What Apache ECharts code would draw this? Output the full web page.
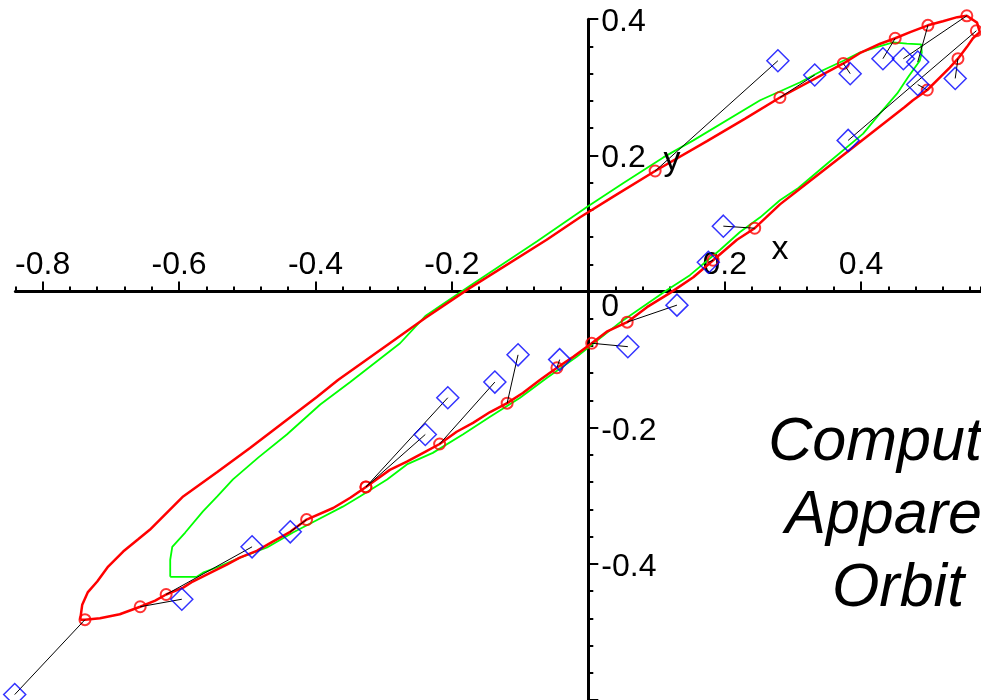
<!DOCTYPE html>
<html><head><meta charset="utf-8">
<script src="https://cdn.jsdelivr.net/npm/echarts@6/dist/echarts.min.js"></script>
<style>html,body{margin:0;padding:0;background:#fff}#c{width:981px;height:700px}</style>
</head><body><div id="c"></div>
<script>
const xTickLabels = [-0.8, -0.6, -0.4, -0.2, 0.2, 0.4];
const xMajorTicks = [-0.8, -0.6, -0.4, -0.2, 0, 0.2, 0.4];
const yTickLabels = [-0.4, -0.2, 0, 0.2, 0.4];
const titleLines = ['Computed', 'Apparent', 'Orbit'];
const xName = 'x';
const yName = 'y';

// red: computed apparent orbit (closed)
const computedOrbit = [
[-0.745,-0.482],[-0.742,-0.460],[-0.734,-0.442],[-0.720,-0.426],[-0.704,-0.404],
[-0.682,-0.382],[-0.660,-0.364],[-0.643,-0.350],[-0.594,-0.301],[-0.544,-0.265],
[-0.496,-0.230],[-0.448,-0.193],[-0.398,-0.155],[-0.367,-0.130],[-0.305,-0.086],
[-0.239,-0.039],[-0.174,0.005],[-0.061,0.076],[-0.012,0.109],[0.036,0.139],
[0.098,0.177],[0.174,0.221],[0.230,0.254],[0.281,0.285],[0.374,0.335],
[0.398,0.350],[0.428,0.364],[0.450,0.372],[0.472,0.381],[0.498,0.391],
[0.520,0.397],[0.541,0.403],[0.555,0.405],[0.570,0.395],[0.574,0.381],
[0.564,0.372],[0.555,0.359],[0.542,0.342],[0.530,0.329],[0.516,0.315],
[0.497,0.296],[0.476,0.281],[0.464,0.271],[0.381,0.206],[0.308,0.149],
[0.281,0.128],[0.244,0.093],[0.218,0.076],[0.183,0.046],[0.154,0.021],
[0.120,-0.002],[0.086,-0.023],[0.057,-0.045],[0.027,-0.059],[0.005,-0.076],
[-0.022,-0.096],[-0.046,-0.112],[-0.071,-0.130],[-0.096,-0.149],[-0.119,-0.164],
[-0.144,-0.177],[-0.169,-0.193],[-0.193,-0.206],[-0.218,-0.224],[-0.242,-0.237],
[-0.266,-0.250],[-0.291,-0.262],[-0.326,-0.287],[-0.349,-0.303],[-0.374,-0.318],
[-0.413,-0.335],[-0.437,-0.353],[-0.462,-0.367],[-0.486,-0.381],[-0.511,-0.391],
[-0.530,-0.401],[-0.550,-0.411],[-0.580,-0.426],[-0.594,-0.435],[-0.619,-0.445],
[-0.635,-0.454],[-0.657,-0.463],[-0.687,-0.474],[-0.716,-0.480],[-0.738,-0.482],
[-0.745,-0.482]
];

// green: true orbit (closed)
const trueOrbit = [
[-0.613,-0.419],[-0.613,-0.394],[-0.610,-0.375],[-0.591,-0.354],[-0.565,-0.323],
[-0.544,-0.301],[-0.521,-0.276],[-0.484,-0.244],[-0.442,-0.210],[-0.393,-0.166],
[-0.349,-0.133],[-0.276,-0.076],[-0.239,-0.036],[-0.174,0.008],[-0.075,0.074],
[-0.002,0.124],[0.051,0.159],[0.110,0.197],[0.154,0.222],[0.252,0.281],
[0.310,0.307],[0.344,0.325],[0.374,0.339],[0.398,0.351],[0.423,0.359],
[0.447,0.366],[0.467,0.364],[0.488,0.363],[0.489,0.351],[0.486,0.339],
[0.469,0.315],[0.453,0.291],[0.428,0.262],[0.403,0.232],[0.354,0.191],
[0.308,0.152],[0.281,0.134],[0.252,0.109],[0.222,0.087],[0.193,0.061],
[0.149,0.024],[0.115,0.002],[0.047,-0.045],[-0.017,-0.096],[-0.061,-0.127],
[-0.100,-0.156],[-0.144,-0.184],[-0.184,-0.210],[-0.228,-0.237],[-0.266,-0.254],
[-0.295,-0.276],[-0.335,-0.301],[-0.360,-0.316],[-0.404,-0.339],[-0.433,-0.354],
[-0.471,-0.376],[-0.506,-0.389],[-0.544,-0.405],[-0.565,-0.413],[-0.574,-0.419],
[-0.613,-0.419]
];

// blue diamonds: observed positions
const observed = [
[0.278,0.339],[0.332,0.318],[0.384,0.320],[0.432,0.342],[0.462,0.342],
[0.483,0.337],[0.483,0.304],[0.538,0.313],[0.381,0.222],[0.198,0.096],
[0.176,0.043],[0.130,-0.020],[0.058,-0.081],[-0.042,-0.100],[-0.103,-0.093],
[-0.137,-0.133],[-0.206,-0.156],[-0.239,-0.210],[-0.437,-0.353],[-0.493,-0.375],
[-0.596,-0.452],[-0.841,-0.592]
];

// red circles: computed positions matching each observation
const computedAtObs = [
[0.098,0.177],[0.281,0.285],[0.374,0.335],[0.450,0.372],[0.555,0.405],
[0.498,0.391],[0.497,0.296],[0.542,0.342],[0.569,0.383],[0.244,0.093],
[0.183,0.046],[0.057,-0.045],[0.005,-0.076],[-0.046,-0.112],[-0.119,-0.164],
[-0.218,-0.224],[-0.326,-0.287],[-0.326,-0.287],[-0.413,-0.335],[-0.619,-0.445],
[-0.657,-0.463],[-0.738,-0.482]
];

const inList = (list, v) => list.some(t => Math.abs(t - v) < 1e-9);
const FONT = '"Liberation Sans", Arial, Helvetica, sans-serif';

// geometry of the plot area
const G = {left: 15.4, right: 0, top: 19.2, bottom: 0, w: 981, h: 700};
const X_MIN = -0.84, X_MAX = 0.5758, Y_MIN = -0.6, Y_MAX = 0.4;
const pxPerX = (G.w - G.left - G.right) / (X_MAX - X_MIN);
const pxPerY = (G.h - G.top - G.bottom) / (Y_MAX - Y_MIN);
const yZeroPx = G.top + Y_MAX * pxPerY;
const xZeroPx = G.left - X_MIN * pxPerX;
const xAxisOffset = -((G.h - G.bottom) - yZeroPx);
const yAxisOffset = -(xZeroPx - G.left);

const lineStyle = {color: '#000', width: 3};
const tickStyle = {color: '#000', width: 2};
const titleFont = {fontFamily: FONT, fontStyle: 'italic', fontWeight: 'normal', fontSize: 61, lineHeight: 73, color: '#000'};

const chart = echarts.init(document.getElementById('c'), null, {renderer: 'canvas'});
chart.setOption({
  animation: false,
  backgroundColor: '#fff',
  title: {
    text: '{a|' + titleLines[0] + '}\n{a|' + titleLines[1] + '}\n{o|' + titleLines[2] + '}',
    left: 909, top: 407, padding: 0,
    textAlign: 'center', textVerticalAlign: 'top',
    textStyle: Object.assign({}, titleFont, {
      rich: {
        a: Object.assign({}, titleFont),
        o: Object.assign({}, titleFont, {padding: [0, 22, 0, 0]})
      }
    })
  },
  grid: {left: G.left, right: G.right, top: G.top, bottom: G.bottom, containLabel: false, outerBoundsMode: 'none'},
  xAxis: [
    {
      type: 'value', min: X_MIN, max: X_MAX, interval: 0.04,
      position: 'bottom', offset: xAxisOffset,
      axisLine: {onZero: false, lineStyle: lineStyle},
      axisTick: {show: true, inside: true, length: 5, lineStyle: tickStyle},
      axisLabel: {show: false},
      splitLine: {show: false}
    },
    {
      type: 'value', min: X_MIN, max: X_MAX,
      position: 'bottom', offset: xAxisOffset,
      axisLine: {show: false, onZero: false},
      axisTick: {show: true, inside: true, length: 10, lineStyle: tickStyle, customValues: xMajorTicks},
      axisLabel: {
        show: true, inside: true, margin: 10, color: '#000', fontFamily: FONT, fontSize: 32,
        customValues: xTickLabels,
        formatter: v => inList(xTickLabels, v) ? String(xTickLabels.find(t => Math.abs(t - v) < 1e-9)) : ''
      },
      splitLine: {show: false}
    }
  ],
  yAxis: {
    type: 'value', min: Y_MIN, max: Y_MAX, interval: 0.2,
    position: 'left', offset: yAxisOffset,
    axisLine: {onZero: false, lineStyle: lineStyle},
    axisTick: {show: true, inside: true, length: 10, lineStyle: tickStyle},
    minorTick: {show: true, splitNumber: 5, length: 5, lineStyle: tickStyle},
    splitLine: {show: false},
    axisLabel: {
      inside: true, margin: 13, color: '#000', fontFamily: FONT, fontSize: 32,
      padding: [6, 0, 0, 0],
      formatter: v => {
        if (!inList(yTickLabels, v)) return '';
        const t = yTickLabels.find(t => Math.abs(t - v) < 1e-9);
        return t === 0 ? '{z|0}' : String(t);
      },
      rich: {z: {fontFamily: FONT, fontSize: 32, color: '#000', padding: [25, 0, 0, 0]}}
    }
  },
  graphic: [
    {type: 'text', x: 780, y: 250, z: 10, style: {text: xName, font: '34px ' + FONT, fill: '#000', align: 'center', verticalAlign: 'middle'}},
    {type: 'text', x: 672, y: 161, z: 10, style: {text: yName, font: '34px ' + FONT, fill: '#000', align: 'center', verticalAlign: 'middle'}}
  ],
  series: [
    {type: 'line', name: 'true', data: trueOrbit, showSymbol: false, clip: false, z: 2,
      lineStyle: {color: '#00ff00', width: 1.8}},
    {type: 'line', name: 'computed', data: computedOrbit, showSymbol: false, clip: false, z: 3,
      lineStyle: {color: '#ff0000', width: 2.5}},
    {type: 'scatter', name: 'computedPts', data: computedAtObs, symbol: 'circle', symbolSize: 11, clip: false, z: 4,
      itemStyle: {color: 'rgba(0,0,0,0)', borderColor: '#ff0000', borderWidth: 2}},
    {type: 'lines', coordinateSystem: 'cartesian2d', z: 5, clip: false,
      data: observed.map((p, i) => ({coords: [p, computedAtObs[i]]})),
      lineStyle: {color: '#000', width: 1, opacity: 1}},
    {type: 'scatter', name: 'observed', data: observed, symbol: 'diamond', symbolSize: 22, clip: false, z: 6,
      itemStyle: {color: 'rgba(0,0,0,0)', borderColor: '#0000ff', borderWidth: 1.5}}
  ]
});
</script>
</body></html>
